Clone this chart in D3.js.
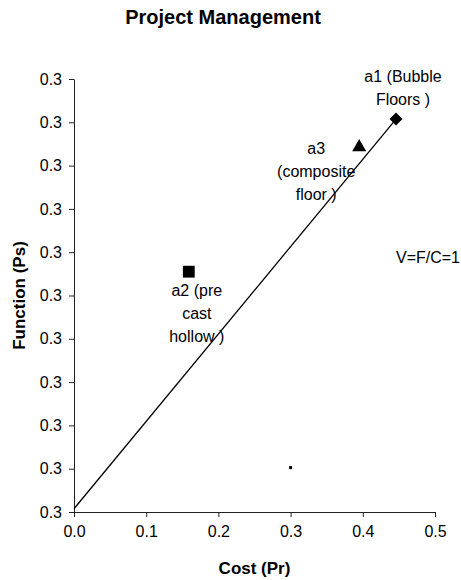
<!DOCTYPE html>
<html>
<head>
<meta charset="utf-8">
<script src="https://cdn.jsdelivr.net/npm/d3@7"></script>
<style>
  body { margin: 0; background: #fff; }
  text { font-family: "Liberation Sans", Arial, sans-serif; }
</style>
</head>
<body>
<svg width="461" height="580"></svg>
<script>
// alternatives (labels split as in the chart)
var altNames = ["a1", "a2", "a3"];
var altLabels = [["a1 (Bubble", "Floors )"], ["a2 (pre", "cast", "hollow )"], ["a3", "(composite", "floor )"]];
var altSymbols = ["diamond", "square", "triangle"];
var costPr = [0.446, 0.159, 0.395];
var functionPs = [0.3363, 0.3222, 0.3337];

// value line V = F/C = 1
var lineCost = [0, 0.446];
var lineFunction = [0.3003, 0.3363];

// stray point
var dotCost = [0.30];
var dotFunction = [0.3041];

var xTicks = [0, 0.1, 0.2, 0.3, 0.4, 0.5];
var yTicks = [0.300, 0.304, 0.308, 0.312, 0.316, 0.320, 0.324, 0.328, 0.332, 0.336, 0.340];

var svg = d3.select("svg"),
    margin = {top: 79, right: 26, bottom: 68, left: 74},
    width = +svg.attr("width") - margin.left - margin.right,
    height = +svg.attr("height") - margin.top - margin.bottom,
    g = svg.append("g").attr("transform", "translate(" + margin.left + "," + margin.top + ")");

var x = d3.scaleLinear().domain([0, 0.5]).range([0, width]);
var y = d3.scaleLinear().domain([0.30, 0.34]).range([height, 0]);

// title
svg.append("text")
    .attr("x", 223).attr("y", 24)
    .attr("text-anchor", "middle")
    .attr("font-size", 20).attr("font-weight", "bold")
    .text("Project Management");

// axes
var xAxis = g.append("g")
    .attr("transform", "translate(0," + height + ")")
    .call(d3.axisBottom(x).tickValues(xTicks).tickFormat(d3.format(".1f")).tickSize(5).tickSizeOuter(0).tickPadding(9));
var yAxis = g.append("g")
    .call(d3.axisLeft(y).tickValues(yTicks).tickFormat(d3.format(".1f")).tickSize(5).tickSizeOuter(0).tickPadding(7));

[xAxis, yAxis].forEach(function(a) {
  a.select(".domain").attr("stroke", "#222");
  a.selectAll(".tick line").attr("stroke", "#222");
  a.selectAll(".tick text").attr("font-size", 16).attr("fill", "#000")
    .style("font-family", "'Liberation Sans', Arial, sans-serif");
});

// axis titles
svg.append("text")
    .attr("x", margin.left + x(0.25)).attr("y", 574)
    .attr("text-anchor", "middle")
    .attr("font-size", 17).attr("font-weight", "bold")
    .text("Cost (Pr)");
svg.append("text")
    .attr("transform", "translate(25," + (margin.top + height / 2) + ") rotate(-90)")
    .attr("text-anchor", "middle")
    .attr("font-size", 17).attr("font-weight", "bold")
    .text("Function (Ps)");

// value line
var line = d3.line()
    .x(function(d) { return x(d[0]); })
    .y(function(d) { return y(d[1]); });
g.append("path")
    .datum(d3.zip(lineCost, lineFunction))
    .attr("fill", "none")
    .attr("stroke", "#000")
    .attr("stroke-width", 1.3)
    .attr("d", line);

g.append("text")
    .attr("x", 460 - margin.left).attr("y", y(0.3235))
    .attr("dy", "0.35em")
    .attr("text-anchor", "end")
    .attr("font-size", 16)
    .text("V=F/C=1");

// stray dot
g.selectAll(".dot")
    .data(d3.zip(dotCost, dotFunction))
  .enter().append("rect")
    .attr("x", function(d) { return x(d[0]) - 1.5; })
    .attr("y", function(d) { return y(d[1]) - 1.5; })
    .attr("width", 3).attr("height", 3)
    .attr("fill", "#000");

// markers
var symType = { diamond: d3.symbolSquare, square: d3.symbolSquare, triangle: d3.symbolTriangle };
var symSize = { diamond: 85, square: 140, triangle: 85 };
var symRot = { diamond: 45, square: 0, triangle: 0 };
var pts = altNames.map(function(n, i) {
  return { name: n, cx: costPr[i], fy: functionPs[i], sym: altSymbols[i], lines: altLabels[i] };
});

g.selectAll(".pt")
    .data(pts)
  .enter().append("path")
    .attr("transform", function(d) {
      return "translate(" + x(d.cx) + "," + y(d.fy) + ") rotate(" + symRot[d.sym] + ")";
    })
    .attr("d", function(d) { return d3.symbol().type(symType[d.sym]).size(symSize[d.sym])(); })
    .attr("fill", "#000");

// data labels
var labelOffset = { a1: [7, -43], a2: [8, 19], a3: [-43, 1] };
pts.forEach(function(d) {
  var off = labelOffset[d.name];
  var t = g.append("text")
      .attr("text-anchor", "middle")
      .attr("font-size", 16);
  d.lines.forEach(function(s, k) {
    t.append("tspan")
        .attr("x", x(d.cx) + off[0])
        .attr("y", y(d.fy) + off[1] + k * 23)
        .attr("dy", "0.35em")
        .text(s);
  });
});
</script>
</body>
</html>
